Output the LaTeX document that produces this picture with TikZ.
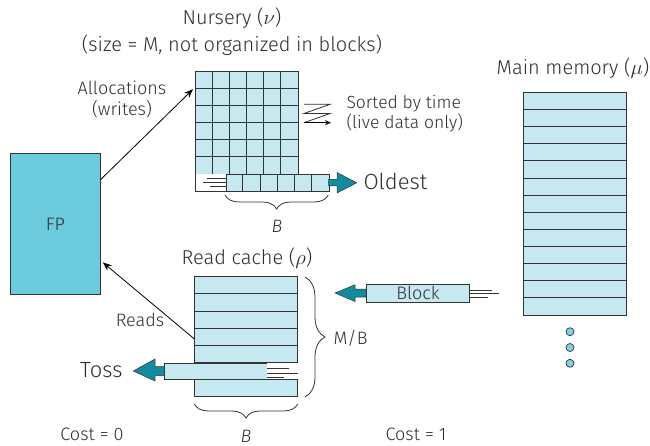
\documentclass[tikz,border=0pt]{standalone}
\usepackage{fontspec}
\setmainfont{Fira Sans}[UprightFont={* Light}, ItalicFont={* Light Italic}]
\usetikzlibrary{arrows.meta,decorations.pathreplacing}
\definecolor{cellfill}{HTML}{C6E8F1}
\definecolor{fpfill}{HTML}{6CCBDC}
\definecolor{teal2}{HTML}{138A9E}
\definecolor{edge}{HTML}{333333}
\definecolor{txt}{HTML}{2E2E2E}
\definecolor{dotfill}{HTML}{7FD3E2}
\begin{document}
\begin{tikzpicture}[x=1pt,y=-1pt,
  every node/.style={text=txt, font=\fontsize{18}{21}\selectfont},
  titletxt/.style={font=\fontsize{20}{24}\selectfont},
  bigtxt/.style={font=\fontsize{22}{24}\selectfont},
  cellline/.style={draw=edge, line width=0.8pt},
  arr/.style={draw=black, line width=0.8pt, -{Stealth[length=9pt,width=7pt]}},
  bracestyle/.style={draw=edge, line width=0.8pt, decorate, decoration={brace, amplitude=#1}},
  tealarrow/.style={fill=teal2, draw=edge, line width=0.5pt},
  hatch/.style={draw=edge, line width=0.8pt}
]
\useasboundingbox (0,0) rectangle (650,446);

% ---------- FP ----------
\node[draw=edge, line width=0.8pt, fill=fpfill, minimum width=90pt, minimum height=141pt,
      anchor=north west, inner sep=0pt] (fp) at (10,153) {FP};

% ---------- Nursery ----------
\node[inner sep=0pt, minimum width=103pt, minimum height=103pt, anchor=north west,
      fill=cellfill] (nur) at (195,71) {};
\foreach \i in {0,...,6} {
  \draw[cellline] (195+\i*17.1667,71) -- (195+\i*17.1667,174);
  \draw[cellline] (195,71+\i*17.1667) -- (298,71+\i*17.1667);
}
% bottom row
\fill[white] (195,174) rectangle (225.7,191.5);
\draw[cellline] (195,174) -- (195,191.5) -- (225.7,191.5);
\draw[hatch] (207,178.3) -- (225.7,178.3);
\draw[hatch] (203,182.3) -- (225.7,182.3);
\draw[hatch] (210,186.2) -- (225.7,186.2);
\node[inner sep=0pt, minimum width=103pt, minimum height=17.5pt, anchor=north west,
      fill=cellfill, draw=edge, line width=0.8pt] (row) at (225.7,174) {};
\foreach \i in {1,...,5} \draw[cellline] (225.7+\i*17.1667,174) -- (225.7+\i*17.1667,191.5);
% Oldest arrow
\fill[tealarrow] (328.7,179.5) -- (337,179.5) -- (337,172.5) -- (356.7,182.8)
   -- (337,193) -- (337,186) -- (328.7,186) -- cycle;
\node[bigtxt, anchor=west] (oldest) at (360,181) {Oldest};
\draw[bracestyle=14pt] (328.3,195) -- (225,195);
\node (bn) at (277,226) {\textit{B}};

% sorted symbol
\draw[edge, line width=0.8pt] (304,104.3) -- (330,104.3) -- (304,113.5) -- (330,113.5) -- (304,122.7);
\draw[arr, -{Stealth[length=6pt,width=5pt]}] (304,122.7) -- (331,122.7);
\node[anchor=west, align=left, font=\fontsize{17.5}{20}\selectfont] (sorted) at (343,114) {Sorted by time\\(live data only)};

% titles
\node[titletxt] (nt1) at (232,18) {Nursery ($\nu$)};
\node[titletxt] (nt2) at (232,45) {(size = M, not organized in blocks)};

% ---------- Read cache ----------
\node[inner sep=0pt, minimum width=103.4pt, minimum height=120pt, anchor=north west,
      fill=cellfill] (cache) at (194.3,276.7) {};
\draw[cellline] (194.3,276.7) rectangle (297.7,396.7);
\foreach \i in {1,...,6} \draw[cellline] (194.3,276.7+\i*17.1429) -- (297.7,276.7+\i*17.1429);
\node[titletxt] (ct) at (247,258) {Read cache ($\rho$)};
% toss bar
\node[inner sep=0pt, minimum width=103pt, minimum height=16.6pt, anchor=north west,
      fill=cellfill, draw=edge, line width=0.8pt] (tbar) at (164.3,362.7) {};
\fill[white] (267.3,362.7) rectangle (297.7,379.3);
\draw[cellline] (267.3,362.7) -- (297.7,362.7);
\draw[cellline] (267.3,379.3) -- (297.7,379.3);
\draw[hatch] (267.3,368.3) -- (288.5,368.3);
\draw[hatch] (267.3,373.5) -- (297.7,373.5);
\draw[hatch] (267.3,377.6) -- (284,377.6);
\fill[tealarrow] (164.3,366.5) -- (155,366.5) -- (155,359) -- (133.3,371)
   -- (155,381) -- (155,375.5) -- (164.3,375.5) -- cycle;
\node[bigtxt, anchor=east] (toss) at (126,370) {Toss};
\draw[bracestyle=20pt] (305,277) -- (305,397);
\node[anchor=west] (mb) at (330,338) {M/B};
\draw[bracestyle=14pt] (297.7,404) -- (194.3,404);
\node (bb) at (246,436) {\textit{B}};

% ---------- Block ----------
\node[inner sep=0pt, minimum width=103.3pt, minimum height=17.4pt, anchor=north west,
      fill=cellfill, draw=edge, line width=0.8pt] (block) at (366,284.3) {Block};
\draw[hatch] (block.east) ++(0,-3) -- ++(21.5,0);
\draw[hatch] (block.east) ++(0,0.3) -- ++(29,0);
\draw[hatch] (block.east) ++(0,3.7) -- ++(17.5,0);
\fill[tealarrow] (366,289) -- (355,289) -- (355,284.8) -- (335,293) -- (355,301.5)
   -- (355,297.2) -- (366,297.2) -- cycle;

% ---------- Main memory ----------
\node[inner sep=0pt, minimum width=103.4pt, minimum height=222.7pt, anchor=north west,
      fill=cellfill] (mem) at (523.3,92.3) {};
\draw[cellline] (523.3,92.3) rectangle (626.7,315);
\foreach \i in {1,...,12} \draw[cellline] (523.3,92.3+\i*17.1308) -- (626.7,92.3+\i*17.1308);
\node[titletxt] (mt) at (573,68) {Main memory ($\mu$)};
\foreach \y [count=\k] in {331.7,347.5,363.3}
  \node[circle, draw=edge, line width=0.7pt, fill=dotfill, inner sep=0pt, minimum size=8pt] (dot\k) at (570,\y) {};

% ---------- connectors ----------
\draw[arr] ([yshift=44.5pt]fp.east) -- ([yshift=33.5pt,xshift=-2pt]nur.west);
\node[align=center] (alloc) at (122,99.5) {Allocations\\(writes)};
\draw[arr] ([yshift=-2pt]cache.west) -- ([yshift=-38.5pt,xshift=2pt]fp.east);
\node (reads) at (140,320) {Reads};

% ---------- costs ----------
\node (c0) at (92,434) {Cost = 0};
\node (c1) at (416,434) {Cost = 1};
\end{tikzpicture}
\end{document}
